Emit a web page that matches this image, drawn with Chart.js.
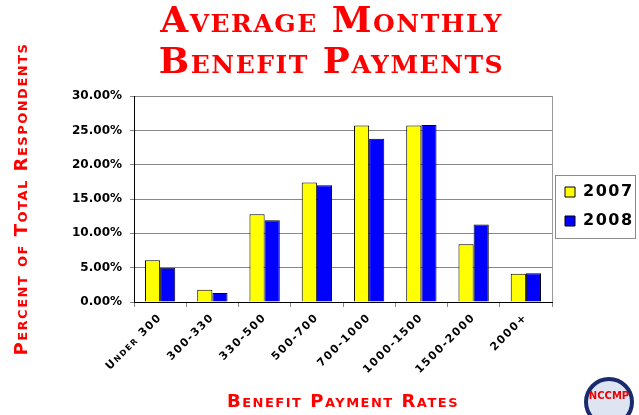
<!DOCTYPE html>
<html>
<head>
<meta charset="utf-8">
<script src="https://cdn.jsdelivr.net/npm/chart.js@4/dist/chart.umd.min.js"></script>
<style>
  html, body { margin: 0; padding: 0; background: #fff; }
  #wrap { position: relative; width: 639px; height: 415px; overflow: hidden; }
  .seal {
    position: absolute; left: 584px; top: 377px; width: 50px; height: 50px;
    border-radius: 50%; border: 4px solid #1a2a6c; box-sizing: border-box;
    background: #dfe4f2; text-align: center;
    font: bold 10px "DejaVu Sans", sans-serif; color: #e00; line-height: 30px;
  }
</style>
</head>
<body>
<div id="wrap">
  <canvas id="benefit-chart" width="639" height="415"></canvas>
  <div class="seal">NCCMP</div>
</div>
<script>
const categories = ["Under 300", "300-330", "330-500", "500-700", "700-1000", "1000-1500", "1500-2000", "2000+"];
const values2007 = [6.1, 1.8, 12.8, 17.4, 25.7, 25.7, 8.4, 4.1];
const values2008 = [5.0, 1.3, 11.9, 17.0, 23.8, 25.8, 11.3, 4.2];
const seriesNames = ["2007", "2008"];
const yMin = 0, yMax = 30, yStep = 5;

const CAPS = "small-caps bold";
const WIDE = "1.5px"; // the original uses a very wide typeface

// wide lettering for titles/labels, normal for the y tick labels (drawn last, z = 1)
const spacingPlugin = {
  id: "spacing",
  beforeUpdate(chart) { chart.ctx.letterSpacing = WIDE; },
  beforeDraw(chart) { chart.ctx.letterSpacing = WIDE; },
  afterDatasetsDraw(chart) { chart.ctx.letterSpacing = "0px"; }
};

// thin grey frame on the right of the plot and a box round the legend
const framePlugin = {
  id: "frame",
  afterDatasetsDraw(chart) {
    const { ctx, chartArea: a } = chart;
    ctx.save();
    ctx.strokeStyle = "#9a9a9a";
    ctx.lineWidth = 1;
    ctx.beginPath();
    ctx.moveTo(Math.round(a.right) + 0.5, a.top);
    ctx.lineTo(Math.round(a.right) + 0.5, a.bottom);
    ctx.stroke();
    ctx.restore();
  },
  afterDraw(chart) {
    const boxes = chart.legend && chart.legend.legendHitBoxes;
    if (!boxes || !boxes.length) return;
    const ctx = chart.ctx;
    let l = Infinity, t = Infinity, r = -Infinity, b = -Infinity;
    boxes.forEach(h => {
      l = Math.min(l, h.left); t = Math.min(t, h.top);
      r = Math.max(r, h.left + h.width); b = Math.max(b, h.top + h.height);
    });
    ctx.save();
    ctx.strokeStyle = "#8a8a8a";
    ctx.lineWidth = 1;
    ctx.strokeRect(Math.round(l - 10) + 0.5, Math.round(t - 9) + 0.5, Math.round(r - l + 11), Math.round(b - t + 18));
    ctx.restore();
  }
};

const ctx = document.getElementById("benefit-chart");
new Chart(ctx, {
  type: "bar",
  data: {
    labels: categories,
    datasets: [
      {
        label: seriesNames[0],
        data: values2007,
        backgroundColor: "#ffff00",
        borderColor: "#000000",
        borderWidth: 1,
        barPercentage: 1.0,
        categoryPercentage: 0.58
      },
      {
        label: seriesNames[1],
        data: values2008,
        backgroundColor: "#0000ff",
        borderColor: "#000000",
        borderWidth: 1,
        barPercentage: 1.0,
        categoryPercentage: 0.58
      }
    ]
  },
  options: {
    responsive: false,
    animation: false,
    devicePixelRatio: 1,
    layout: { padding: { left: 20, right: -4, top: 0, bottom: 2 } },
    plugins: {
      title: {
        display: true,
        text: ["Average Monthly", "Benefit Payments"],
        color: "#ff0000",
        font: { family: '"DejaVu Serif", serif', size: 36, weight: CAPS, lineHeight: 1.14 },
        padding: { top: 2, bottom: 12 }
      },
      legend: {
        position: "right",
        maxWidth: 91,
        maxHeight: 186,
        labels: {
          boxWidth: 10,
          boxHeight: 10,
          padding: 13,
          color: "#000",
          font: { family: '"DejaVu Sans", sans-serif', size: 16, weight: "bold" }
        }
      },
      tooltip: { enabled: false }
    },
    scales: {
      x: {
        grid: { display: true, drawOnChartArea: false, offset: true, tickLength: 5, color: "#888" },
        border: { color: "#000", width: 1 },
        ticks: {
          color: "#000",
          maxRotation: 45,
          minRotation: 45,
          padding: 4,
          font: { family: '"DejaVu Sans", sans-serif', size: 11, weight: CAPS }
        },
        title: {
          display: true,
          text: "Benefit Payment Rates",
          color: "#ff0000",
          font: { family: '"DejaVu Sans", sans-serif', size: 18, weight: CAPS },
          padding: { top: 0, bottom: 0 }
        },
        afterFit(scale) { scale.height = 111; }
      },
      y: {
        min: yMin,
        max: yMax,
        grid: { color: "#888", tickLength: 4 },
        border: { color: "#000", width: 1 },
        ticks: {
          z: 1,
          stepSize: yStep,
          color: "#000",
          padding: 8,
          font: { family: '"DejaVu Sans", sans-serif', size: 12, weight: "bold" },
          callback: v => v.toFixed(2) + "%"
        },
        title: {
          display: true,
          text: "Percent of Total Respondents",
          color: "#ff0000",
          font: { family: '"DejaVu Sans", sans-serif', size: 18, weight: CAPS },
          padding: { top: -8, bottom: 0 }
        },
        afterFit(scale) { scale.width = 114; }
      }
    }
  },
  plugins: [spacingPlugin, framePlugin]
});
</script>
</body>
</html>
